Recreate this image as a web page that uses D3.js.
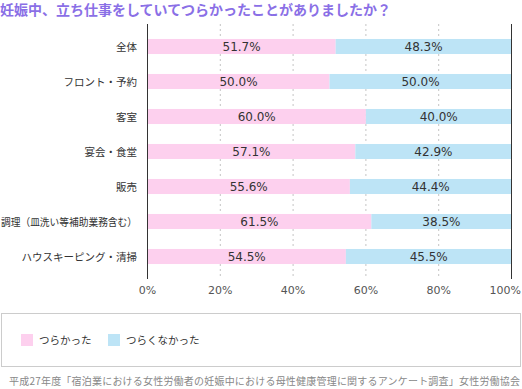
<html>
    <head>
        <meta charset="utf-8">
        <script src="https://d3js.org/d3.v7.min.js"></script>
        <style>
            body { margin: 0; background: #fff; }
        </style>
    </head>
    <body>
        <svg id="chart"></svg>
        <script>
            // data
            const categories = ['全体', 'フロント・予約', '客室', '宴会・食堂', '販売', '調理（皿洗い等補助業務含む）', 'ハウスキーピング・清掃'];
            const hard = [51.7, 50.0, 60.0, 57.1, 55.6, 61.5, 54.5];
            const notHard = [48.3, 50.0, 40.0, 42.9, 44.4, 38.5, 45.5];
            const seriesNames = ['つらかった', 'つらくなかった'];
            const tickValues = [0, 20, 40, 60, 80, 100];
            const colors = ['#fdd0ee', '#bde4f6'];

            const width = 522, height = 389;
            const jp = "'Noto Sans CJK JP', sans-serif";
            const num = "'DejaVu Sans', sans-serif";

            let svg = d3.select('svg#chart')
                        .attr('width', width)
                        .attr('height', height);

            // title
            svg.append('text')
               .attr('x', 0).attr('y', 15)
               .style('font-family', jp)
               .style('font-size', '14px')
               .style('font-weight', 'bold')
               .style('fill', '#8a6fe6')
               .text('妊娠中、立ち仕事をしていてつらかったことがありましたか？');

            const xScale = d3.scaleLinear().domain([0, 100]).range([147.5, 511.5]);
            const yScale = d3.scaleBand().domain(categories).range([29, 274]).paddingInner(0.57).paddingOuter(0.285);

            // grid
            svg.selectAll('line.grid').data([20, 40, 60, 80])
               .join('line')
               .attr('class', 'grid')
               .attr('x1', d => xScale(d)).attr('x2', d => xScale(d))
               .attr('y1', 24).attr('y2', 279)
               .style('stroke', '#c4c4c4')
               .style('stroke-dasharray', '2,3');

            // bars
            const rows = categories.map((c, i) => ({c: c, a: hard[i], b: notHard[i]}));
            let g = svg.selectAll('g.row').data(rows).join('g').attr('class', 'row');
            g.append('rect')
             .attr('x', xScale(0))
             .attr('y', d => yScale(d.c))
             .attr('width', d => xScale(d.a) - xScale(0))
             .attr('height', yScale.bandwidth())
             .style('fill', colors[0]);
            g.append('rect')
             .attr('x', d => xScale(d.a))
             .attr('y', d => yScale(d.c))
             .attr('width', d => xScale(d.a + d.b) - xScale(d.a))
             .attr('height', yScale.bandwidth())
             .style('fill', colors[1]);
            g.append('text')
             .attr('x', d => (xScale(0) + xScale(d.a)) / 2)
             .attr('y', d => yScale(d.c) + yScale.bandwidth() / 2 + 4.5)
             .attr('text-anchor', 'middle')
             .style('font-family', num).style('font-size', '12px').style('fill', '#333')
             .text(d => d.a.toFixed(1) + '%');
            g.append('text')
             .attr('x', d => (xScale(d.a) + xScale(d.a + d.b)) / 2)
             .attr('y', d => yScale(d.c) + yScale.bandwidth() / 2 + 4.5)
             .attr('text-anchor', 'middle')
             .style('font-family', num).style('font-size', '12px').style('fill', '#333')
             .text(d => d.b.toFixed(1) + '%');
            let cat = g.append('text')
             .attr('x', 137)
             .attr('y', d => yScale(d.c) + yScale.bandwidth() / 2 + 4)
             .attr('text-anchor', 'end')
             .style('font-family', jp).style('font-size', '10.5px').style('fill', '#333')
             .text(d => d.c);
            // squeeze labels that would run past the left edge
            cat.each(function() {
                if (this.getComputedTextLength() > 136) {
                    d3.select(this).attr('textLength', 136).attr('lengthAdjust', 'spacingAndGlyphs');
                }
            });

            // axis lines left/right
            svg.selectAll('line.edge').data([0, 100])
               .join('line')
               .attr('class', 'edge')
               .attr('x1', d => xScale(d)).attr('x2', d => xScale(d))
               .attr('y1', 24).attr('y2', 279)
               .style('stroke', '#333').style('stroke-width', 1);

            // tick labels
            svg.selectAll('text.tick').data(tickValues)
               .join('text')
               .attr('class', 'tick')
               .attr('x', d => d === 100 ? width - 1 : xScale(d)).attr('y', 294)
               .attr('text-anchor', d => d === 100 ? 'end' : 'middle')
               .style('font-family', num).style('font-size', '11px').style('fill', '#555')
               .text(d => d + '%');

            // legend
            svg.append('rect')
               .attr('x', 1.5).attr('y', 313.5).attr('width', 519).attr('height', 53)
               .style('fill', 'none').style('stroke', '#ccc');
            const legendX = [21, 108];
            let lg = svg.selectAll('g.legend').data(seriesNames).join('g').attr('class', 'legend');
            lg.append('rect')
              .attr('x', (d, i) => legendX[i]).attr('y', 334)
              .attr('width', 12).attr('height', 12)
              .style('fill', (d, i) => colors[i]);
            lg.append('text')
              .attr('x', (d, i) => legendX[i] + 18).attr('y', 344)
              .style('font-family', jp).style('font-size', '10.5px').style('fill', '#333')
              .text(d => d);

            // source
            svg.append('text')
               .attr('x', 9).attr('y', 385)
               .attr('textLength', 511)
               .attr('lengthAdjust', 'spacing')
               .style('font-family', jp).style('font-size', '10px').style('fill', '#888')
               .text('平成27年度「宿泊業における女性労働者の妊娠中における母性健康管理に関するアンケート調査」女性労働協会');
        </script>
    </body>
</html>
